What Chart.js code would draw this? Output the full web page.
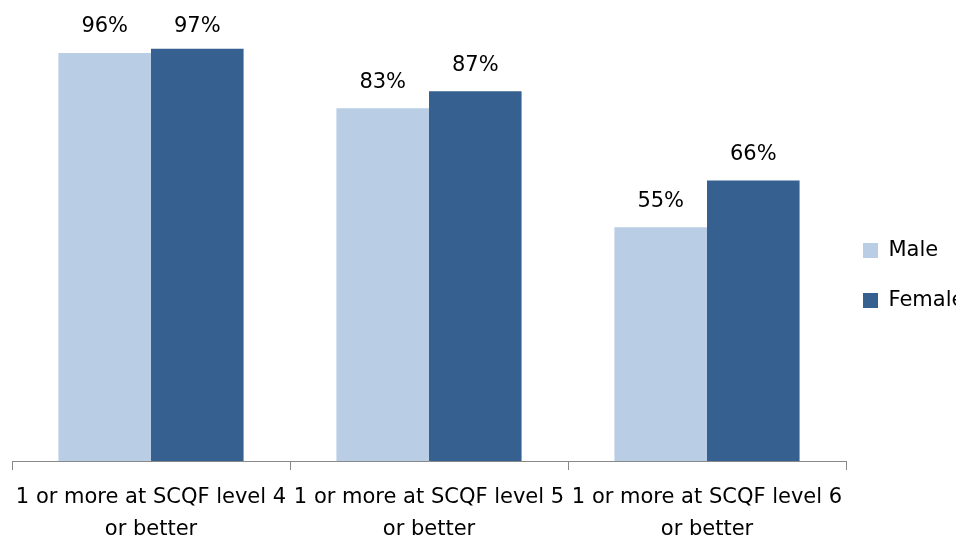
<!DOCTYPE html>
<html>
<head>
<meta charset="utf-8">
<script src="https://cdn.jsdelivr.net/npm/chart.js@4/dist/chart.umd.min.js"></script>
<style>
  html, body { margin: 0; padding: 0; background: #fff; overflow: hidden; }
  #wrap { width: 968px; height: 538px; }
  canvas { display: block; }
</style>
</head>
<body>
<div id="wrap"><canvas id="chart"></canvas></div>
<script>
const categories = [
  ["1 or more at SCQF level 4", "or better"],
  ["1 or more at SCQF level 5", "or better"],
  ["1 or more at SCQF level 6", "or better"],
];
const maleValues = [96, 83, 55];
const femaleValues = [97, 87, 66];

const FONT = "'DejaVu Sans', sans-serif";
const LEGEND_WIDTH = 122;
const LEGEND_SHIFT_X = -12;
const LEGEND_TOP = 211;
const X_AXIS_HEIGHT = 77;

// draw value labels above each bar
const valueLabels = {
  id: "valueLabels",
  afterDatasetsDraw(chart) {
    const ctx = chart.ctx;
    ctx.save();
    ctx.font = "21px " + FONT;
    ctx.fillStyle = "#000";
    ctx.textAlign = "center";
    ctx.textBaseline = "middle";
    chart.data.datasets.forEach((ds, i) => {
      chart.getDatasetMeta(i).data.forEach((bar, j) => {
        const y = Math.max(bar.y - 26, 27);
        ctx.fillText(ds.data[j] + "%", bar.x, y);
      });
    });
    ctx.restore();
  },
};

// keep the legend column a fixed width and put it where the reference has it
const legendPlace = {
  id: "legendPlace",
  beforeInit(chart) {
    const lg = chart.legend;
    if (!lg) return;
    const fit = lg.fit;
    lg.fit = function () {
      fit.call(this);
      this.width = LEGEND_WIDTH;
    };
  },
  afterLayout(chart) {
    const lg = chart.legend;
    if (!lg) return;
    lg.left += LEGEND_SHIFT_X;
    lg.right += LEGEND_SHIFT_X;
    const h = lg.bottom - lg.top;
    lg.top = LEGEND_TOP;
    lg.bottom = LEGEND_TOP + h;
  },
};

new Chart(document.getElementById("chart"), {
  type: "bar",
  data: {
    labels: categories,
    datasets: [
      { label: "Male", data: maleValues, backgroundColor: "#B9CDE5" },
      { label: "Female", data: femaleValues, backgroundColor: "#36608F" },
    ],
  },
  options: {
    responsive: true,
    maintainAspectRatio: false,
    animation: false,
    layout: { padding: { top: 36, left: 12, right: 0, bottom: 0 } },
    datasets: { bar: { categoryPercentage: 0.666, barPercentage: 1 } },
    scales: {
      x: {
        afterFit(scale) { scale.height = X_AXIS_HEIGHT; },
        grid: { offset: true, drawOnChartArea: false, drawTicks: true, tickLength: 9, color: "#888" },
        border: { color: "#888" },
        ticks: { color: "#000", font: { family: FONT, size: 21, lineHeight: 1.55 }, padding: 11, maxRotation: 0, autoSkip: false },
      },
      y: { display: false, min: 0, max: 100 },
    },
    plugins: {
      legend: {
        position: "right",
        align: "start",
        labels: { color: "#000", font: { family: FONT, size: 21 }, boxWidth: 15, boxHeight: 15, padding: 29 },
      },
      tooltip: { enabled: false },
    },
  },
  plugins: [valueLabels, legendPlace],
});
</script>
</body>
</html>
